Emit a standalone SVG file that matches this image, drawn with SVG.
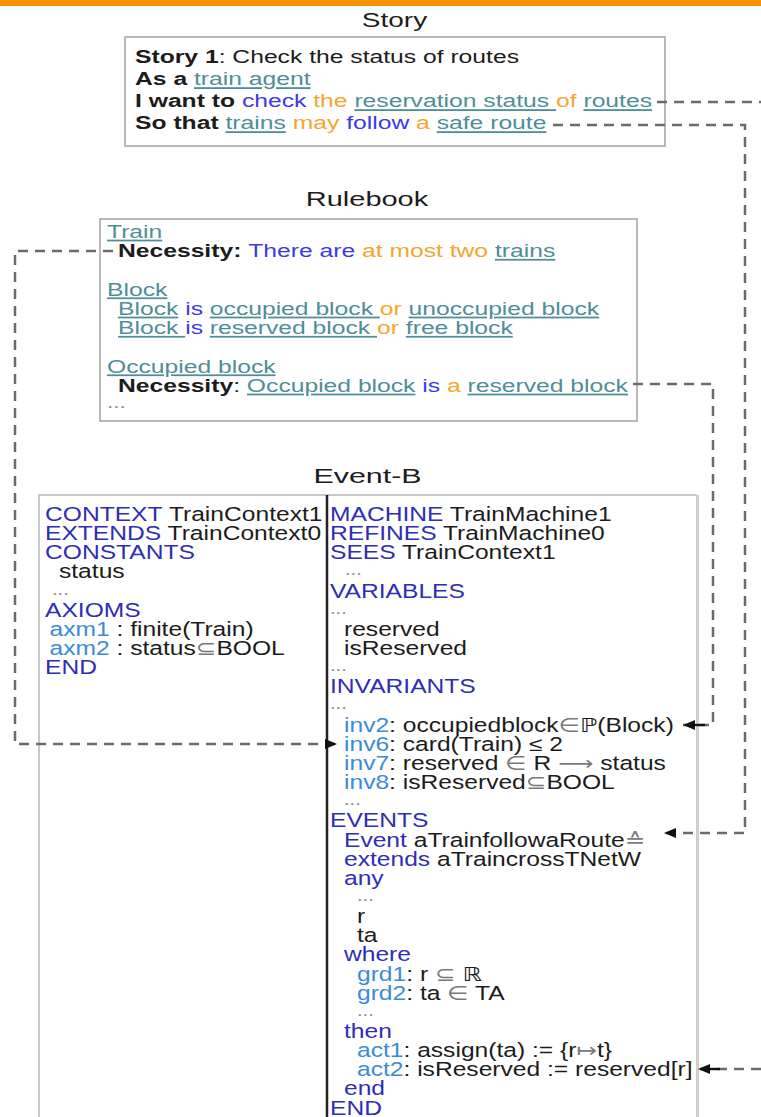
<svg xmlns="http://www.w3.org/2000/svg" width="761" height="1117" viewBox="0 0 761 1117">
<style>
text { font-family: "Liberation Sans", Arial, "DejaVu Sans", sans-serif; fill:#1c1c1c; }
.b { font-weight:bold; }
.ln { fill:#4f8e97; text-decoration:underline; }
.bl { fill:#3b3be6; }
.or { fill:#f4a62c; }
.kw { fill:#2e2eb6; }
.lb { fill:#3c8bd6; }
.sy { fill:#7a7a7a; }
.dots { fill:#8a8a8a; font-size:16px; }
.box { fill:#ffffff; stroke:#a3a3a3; stroke-width:1.5; }
.conn { fill:none; stroke:#6b6b6b; stroke-width:2.5; stroke-dasharray:10 7; }
.ttl { font-size:20px; }
.eb { font-size:19.5px; }
</style>
<defs>
<marker id="ah" viewBox="0 0 12 10" refX="12" refY="5" markerWidth="12" markerHeight="10" markerUnits="userSpaceOnUse" orient="auto">
<path d="M0,0 L12,5 L0,10 z" fill="#111"/>
</marker>
<marker id="ah2" viewBox="0 0 22 10" refX="22" refY="5" markerWidth="22" markerHeight="10" markerUnits="userSpaceOnUse" orient="auto">
<rect x="0" y="3.8" width="11" height="2.4" fill="#111"/>
<path d="M10,0 L22,5 L10,10 z" fill="#111"/>
</marker>
</defs>
<rect x="0" y="0" width="761" height="1117" fill="#ffffff"/>
<rect x="0" y="0" width="761" height="6" fill="#f59300"/>

<g id="story-title"><text class="ttl" font-size="21" text-anchor="middle" transform="translate(394.5,27) scale(1.4,1)">Story</text></g>

<g id="story">
<rect class="box" x="125" y="37" width="540" height="109"/>
<g transform="translate(135,0) scale(1.335,1)" font-size="18.5">
<text x="0" y="63.5" font-size="18.5"><tspan class="b">Story 1</tspan>: Check the status of routes</text>
<text x="0" y="85.5" font-size="18.5"><tspan class="b">As a</tspan> <tspan class="ln">train agent</tspan></text>
<text x="0" y="107.5" font-size="18.5"><tspan class="b">I want to</tspan> <tspan class="bl">check</tspan> <tspan class="or">the</tspan> <tspan class="ln">reservation status </tspan><tspan class="or">of</tspan> <tspan class="ln">routes</tspan></text>
<text x="0" y="129.5" font-size="18.5"><tspan class="b">So that</tspan> <tspan class="ln">trains</tspan> <tspan class="or">may</tspan> <tspan class="bl">follow</tspan> <tspan class="or">a</tspan> <tspan class="ln">safe route</tspan></text>
</g>
</g>

<g id="rulebook-title"><text class="ttl" text-anchor="middle" transform="translate(367,206) scale(1.45,1)">Rulebook</text></g>

<g id="rulebook">
<rect class="box" x="100" y="219" width="537" height="202"/>
<g transform="translate(107,0) scale(1.41,1)">
<text x="0" y="238" font-size="17.5"><tspan class="ln">Train</tspan></text>
<text x="7.8" y="257.25" font-size="17.5"><tspan class="b">Necessity:</tspan> <tspan class="bl">There are</tspan> <tspan class="or">at most two</tspan> <tspan class="ln">trains</tspan></text>
<text x="0" y="295.75" font-size="17.5"><tspan class="ln">Block</tspan></text>
<text x="7.8" y="315" font-size="17.5"><tspan class="ln">Block</tspan> <tspan class="bl">is</tspan> <tspan class="ln">occupied block </tspan><tspan class="or">or</tspan> <tspan class="ln">unoccupied block</tspan></text>
<text x="7.8" y="334.25" font-size="17.5"><tspan class="ln">Block </tspan><tspan class="bl">is</tspan> <tspan class="ln">reserved block </tspan><tspan class="or">or</tspan> <tspan class="ln">free block</tspan></text>
<text x="0" y="372.75" font-size="17.5"><tspan class="ln">Occupied block</tspan></text>
<text x="7.8" y="392" font-size="17.5"><tspan class="b">Necessity</tspan>: <tspan class="ln">Occupied block</tspan> <tspan class="bl">is</tspan> <tspan class="or">a</tspan> <tspan class="ln">reserved block</tspan></text>
<text x="0" y="408" class="dots">...</text>
</g>
</g>

<g id="eventb-title"><text class="ttl" text-anchor="middle" transform="translate(367.5,483) scale(1.52,1)">Event-B</text></g>

<g id="eventb-frame">
<path d="M39,1117 V495 H697" fill="none" stroke="#b8b8b8" stroke-width="1.5"/>
<line x1="697.5" y1="495" x2="697.5" y2="1117" stroke="#cfcfcf" stroke-width="3"/>
<line x1="327" y1="495" x2="327" y2="1117" stroke="#222" stroke-width="2.5"/>
</g>

<g id="context">
<g transform="translate(45,0) scale(1.262,1)">
<text x="0" y="521" class="eb"><tspan class="kw">CONTEXT</tspan> TrainContext1</text>
<text x="0" y="540.15" class="eb"><tspan class="kw">EXTENDS</tspan> TrainContext0</text>
<text x="0" y="559.3" class="eb"><tspan class="kw">CONSTANTS</tspan></text>
<text x="11.1" y="578.45" class="eb">status</text>
<text x="5.5" y="594.6" class="dots">...</text>
<text x="0" y="616.75" class="eb"><tspan class="kw">AXIOMS</tspan></text>
<text x="3.6" y="635.9" class="eb"><tspan class="lb">axm1</tspan> : finite(Train)</text>
<text x="3.6" y="655.05" class="eb"><tspan class="lb">axm2</tspan> : status<tspan class="sy">⊆</tspan>BOOL</text>
<text x="0" y="674.2" class="eb"><tspan class="kw">END</tspan></text>
</g>
</g>

<g id="machine">
<g transform="translate(330,0) scale(1.262,1)">
<text x="0" y="521" class="eb"><tspan class="kw">MACHINE</tspan> TrainMachine1</text>
<text x="0" y="540.15" class="eb"><tspan class="kw">REFINES</tspan> TrainMachine0</text>
<text x="0" y="559.3" class="eb"><tspan class="kw">SEES</tspan> TrainContext1</text>
<text x="11.9" y="575.45" class="dots">...</text>
<text x="0" y="597.6" class="eb"><tspan class="kw">VARIABLES</tspan></text>
<text x="0" y="613.75" class="dots">...</text>
<text x="11.1" y="635.9" class="eb">reserved</text>
<text x="11.1" y="655.05" class="eb">isReserved</text>
<text x="0" y="671.2" class="dots">...</text>
<text x="0" y="693.35" class="eb"><tspan class="kw">INVARIANTS</tspan></text>
<text x="0" y="709.5" class="dots">...</text>
<text x="11.1" y="731.65" class="eb"><tspan class="lb">inv2</tspan>: occupiedblock<tspan class="sy">∈</tspan>ℙ(Block)</text>
<text x="11.1" y="750.8" class="eb"><tspan class="lb">inv6</tspan>: card(Train) ≤ 2</text>
<text x="11.1" y="769.95" class="eb"><tspan class="lb">inv7</tspan>: reserved <tspan class="sy">∈</tspan> R <tspan class="sy">⟶</tspan> status</text>
<text x="11.1" y="789.1" class="eb"><tspan class="lb">inv8</tspan>: isReserved<tspan class="sy">⊆</tspan>BOOL</text>
<text x="11.1" y="805.25" class="dots">...</text>
<text x="0" y="827.4" class="eb"><tspan class="kw">EVENTS</tspan></text>
<text x="11.1" y="846.55" class="eb"><tspan class="kw">Event</tspan> aTrainfollowaRoute<tspan class="sy">≙</tspan></text>
<text x="11.1" y="865.7" class="eb"><tspan class="kw">extends</tspan> aTraincrossTNetW</text>
<text x="11.1" y="884.85" class="eb"><tspan class="kw">any</tspan></text>
<text x="21.4" y="901" class="dots">...</text>
<text x="21.4" y="923.15" class="eb">r</text>
<text x="21.4" y="942.3" class="eb">ta</text>
<text x="11.1" y="961.45" class="eb"><tspan class="kw">where</tspan></text>
<text x="21.4" y="980.6" class="eb"><tspan class="lb">grd1</tspan>: r <tspan class="sy">⊆</tspan> ℝ</text>
<text x="21.4" y="999.75" class="eb"><tspan class="lb">grd2</tspan>: ta <tspan class="sy">∈</tspan> TA</text>
<text x="21.4" y="1015.9" class="dots">...</text>
<text x="11.1" y="1038.05" class="eb"><tspan class="kw">then</tspan></text>
<text x="21.4" y="1057.2" class="eb"><tspan class="lb">act1</tspan>: assign(ta) := {r<tspan class="sy">↦</tspan>t}</text>
<text x="21.4" y="1076.35" class="eb"><tspan class="lb">act2</tspan>: isReserved := reserved[r]</text>
<text x="11.1" y="1095.5" class="eb"><tspan class="kw">end</tspan></text>
<text x="0" y="1114.65" class="eb"><tspan class="kw">END</tspan></text>
</g>
</g>

<g id="connectors">
<path class="conn" d="M657,102 H761"/>
<path class="conn" d="M553,125 H745 V833 H664" marker-end="url(#ah)"/>
<path class="conn" d="M633,384 H713 V725 H683" marker-end="url(#ah2)"/>
<path class="conn" d="M113,251 H15 V744 H337" marker-end="url(#ah)"/>
<path class="conn" d="M761,1069 H698" marker-end="url(#ah2)"/>
</g>
</svg>
